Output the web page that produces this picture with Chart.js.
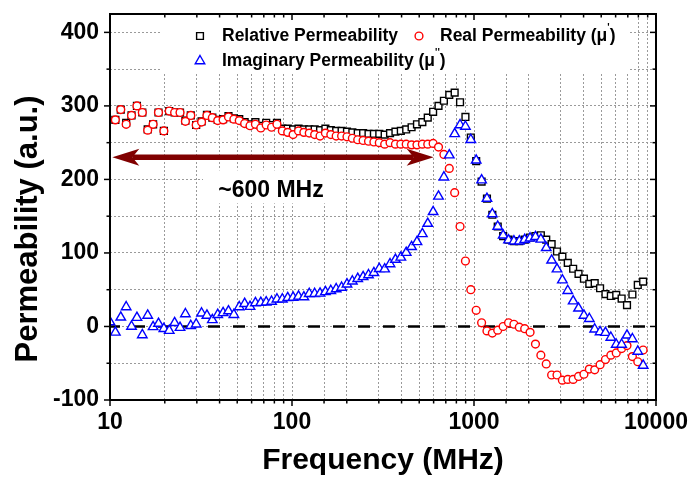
<!DOCTYPE html>
<html>
<head>
<meta charset="utf-8">
<script src="https://cdn.jsdelivr.net/npm/chart.js@4.4.0/dist/chart.umd.min.js"></script>
<style>
  html, body { margin: 0; padding: 0; background: #fff; }
</style>
</head>
<body>
<canvas id="grafico" width="690" height="479"></canvas>
<script>
// frequencias (MHz) - varredura logaritmica
const freq = [10.0, 10.70, 11.46, 12.27, 13.13, 14.06, 15.05, 16.11, 17.25, 18.47,
  19.77, 21.16, 22.65, 24.25, 25.96, 27.79, 29.75, 31.85, 34.09, 36.50,
  39.07, 41.83, 44.77, 47.93, 51.31, 54.93, 58.80, 62.95, 67.39, 72.14,
  77.23, 82.67, 88.50, 94.73, 101.4, 108.6, 116.2, 124.4, 133.2, 142.6,
  152.6, 163.4, 174.9, 187.3, 200.5, 214.6, 229.7, 245.9, 263.3, 281.8,
  301.7, 323.0, 345.7, 370.1, 396.2, 424.1, 454.0, 486.0, 520.3, 557.0,
  596.2, 638.3, 683.3, 731.4, 783.0, 838.2, 897.3, 960.6, 1028, 1101,
  1178, 1261, 1350, 1446, 1548, 1657, 1774, 1899, 2033, 2176,
  2330, 2494, 2670, 2858, 3059, 3275, 3506, 3753, 4018, 4301,
  4604, 4929, 5276, 5648, 6047, 6473, 6929, 7418, 7941, 8500];

// permeabilidade relativa (quadrados pretos)
const relPerm = [null, 281, 295, 277, 287, 300, 291, 268, 275, 291,
  266, 293, 291, 291, 280, 287, 274, 279, 288, 284,
  281, 282, 286, 283, 282, 278, 275, 278, 273, 277,
  274, 277, 269, 269, 268, 269, 268, 268, 268, 267,
  269, 267, 266, 266, 265, 264, 263, 263, 262, 262,
  262, 261, 263, 265, 266, 268, 271, 275, 278, 284,
  292, 300, 307, 315, 318, 305, 285, 257, 225, 197,
  174, 152, 136, 123, 118, 116, 116, 118, 121, 123,
  124, 118, 112, 102, 95, 86.5, 78.5, 71.5, 65, 58,
  59, 52, 44, 41.5, 43, 38, 29, 43.5, 56.5, 61];

// parte real mu' (circulos vermelhos)
const realPerm = [null, 281, 295, 275, 287, 300, 291, 267, 275, 291,
  266, 293, 291, 291, 279, 287, 274, 278, 287, 284,
  280, 281, 285, 282, 280, 276, 273, 275, 270, 274,
  271, 275, 266, 264, 261, 266, 264, 263, 261, 259,
  263, 261, 259, 259, 258, 256, 254, 253, 252, 251,
  250, 248, 250, 248, 248, 248, 247, 247, 248, 248,
  249, 244, 234, 215, 182, 136, 89, 50, 22, 5,
  -6, -9, -5, 0, 5, 3, -1, -3, -8, -24,
  -39, -51, -66, -66, -73, -72, -72, -68, -65, -58,
  -59, -52, -45, -39, -36, -30, -26, -41, -48, -32];

// parte imaginaria mu'' (triangulos azuis)
const imagPerm = [6, -8, 12.5, 26.5, 0, 12, -11.5, 15, -0.5, 4,
  -3, -5.7, 5, -1.6, 17, 1, 3, 18, 15, 9,
  16, 18.5, 21, 16, 26.5, 31, 27, 32, 32.5, 33,
  34, 37, 37, 39, 39.5, 41, 40, 44.5, 44.5, 45,
  47, 48.6, 51, 53, 57.5, 61.5, 65, 67.5, 70, 73,
  78.5, 78, 85, 91, 94, 100.5, 108.4, 115, 126, 140,
  156, 177, 203, 233, 262, 274, 272, 254, 226, 199,
  174, 153, 136, 124, 117.5, 116, 116, 118, 120, 122,
  118.5, 107, 90, 78, 63, 48.6, 34.5, 24.7, 15, 10.5,
  -3.8, -7.5, -8.4, -15, -24.5, -24.5, -12, -17, -34, -53];

const xTickLabels = [10, 100, 1000, 10000];
const yTickLabels = [-100, 0, 100, 200, 300, 400];

// seta da faixa ~600 MHz
const arrowFrom = 10.3;
const arrowTo = 600;
const arrowLevel = 230;
const arrowText = '~600 MHz';

const FONTE = '"Liberation Sans", Arial, sans-serif';

function pts(vals) { // monta pares x,y
  return freq.map(function (f, i) { return { x: f, y: vals[i] }; });
}

const decor = {
  id: 'decor',
  beforeDatasetsDraw: function (chart) {
    const ctx = chart.ctx, a = chart.chartArea;
    const x = chart.scales.x, y = chart.scales.y;
    ctx.save();
    ctx.fillStyle = '#fff';
    ctx.fillRect(160, a.top + 1, 468, 58); // fundo da legenda
    const cx = (x.getPixelForValue(arrowFrom) + x.getPixelForValue(arrowTo)) / 2;
    const ay = y.getPixelForValue(arrowLevel);
    ctx.fillRect(cx - 70, ay + 13, 140, 33); // fundo do texto
    // linha tracejada em zero
    const y0 = y.getPixelForValue(0);
    ctx.strokeStyle = '#000';
    ctx.lineWidth = 2.5;
    ctx.setLineDash([12, 13]);
    ctx.lineDashOffset = 2;
    ctx.beginPath();
    ctx.moveTo(a.left, y0);
    ctx.lineTo(a.right, y0);
    ctx.stroke();
    ctx.restore();
  },
  afterDraw: function (chart) {
    const ctx = chart.ctx, a = chart.chartArea;
    const x = chart.scales.x, y = chart.scales.y;
    ctx.save();
    // moldura e marcas
    ctx.strokeStyle = '#000';
    ctx.lineWidth = 2;
    ctx.strokeRect(a.left, a.top, a.right - a.left, a.bottom - a.top);
    ctx.lineWidth = 1.5;
    function seg(x1, y1, x2, y2) { ctx.beginPath(); ctx.moveTo(x1, y1); ctx.lineTo(x2, y2); ctx.stroke(); }
    x.ticks.forEach(function (t) {
      const px = x.getPixelForValue(t.value);
      const len = xTickLabels.indexOf(t.value) >= 0 ? 6 : 3.5;
      seg(px, a.bottom, px, a.bottom + len);
      seg(px, a.top, px, a.top + len);
    });
    y.ticks.forEach(function (t) {
      if (t.value % 50 !== 0) return;
      const py = y.getPixelForValue(t.value);
      const len = yTickLabels.indexOf(t.value) >= 0 ? 6 : 3.5;
      seg(a.left - len, py, a.left, py);
      seg(a.right - len, py, a.right, py);
    });

    // titulo do eixo y
    ctx.fillStyle = '#000';
    ctx.font = 'bold 31px ' + FONTE;
    ctx.textAlign = 'center';
    ctx.textBaseline = 'middle';
    ctx.translate(28, 229);
    ctx.rotate(-Math.PI / 2);
    ctx.fillText('Permeability (a.u.)', 0, 0);
    ctx.setTransform(1, 0, 0, 1, 0, 0);

    // seta dupla
    const xl = x.getPixelForValue(arrowFrom), xr = x.getPixelForValue(arrowTo);
    const ay = y.getPixelForValue(arrowLevel);
    ctx.fillStyle = '#800000';
    ctx.strokeStyle = '#800000';
    ctx.lineWidth = 5.5;
    seg(xl + 20, ay, xr - 20, ay);
    ctx.beginPath();
    ctx.moveTo(xl, ay); ctx.lineTo(xl + 27, ay - 8.5); ctx.lineTo(xl + 20, ay); ctx.lineTo(xl + 27, ay + 8.5); ctx.closePath();
    ctx.fill();
    ctx.beginPath();
    ctx.moveTo(xr, ay); ctx.lineTo(xr - 27, ay - 8.5); ctx.lineTo(xr - 20, ay); ctx.lineTo(xr - 27, ay + 8.5); ctx.closePath();
    ctx.fill();
    ctx.fillStyle = '#000';
    ctx.font = 'bold 23px ' + FONTE;
    ctx.textAlign = 'center';
    ctx.textBaseline = 'alphabetic';
    ctx.fillText(arrowText, (xl + xr) / 2 - 2, ay + 40);

    // legenda
    const ds = chart.data.datasets;
    function marker(d, mx, my) {
      ctx.strokeStyle = d.borderColor;
      ctx.fillStyle = '#fff';
      ctx.lineWidth = d.borderWidth;
      Chart.helpers.drawPoint(ctx, { pointStyle: d.pointStyle, radius: d.pointRadius, rotation: 0, borderWidth: d.borderWidth }, mx, my);
    }
    function label(txt, primes, tx, ty) {
      ctx.fillStyle = '#000';
      ctx.font = 'bold 17.5px ' + FONTE;
      ctx.textAlign = 'left';
      ctx.textBaseline = 'middle';
      ctx.fillText(txt, tx, ty);
      if (!primes) return;
      let w = ctx.measureText(txt).width;
      ctx.font = 'bold 10px ' + FONTE;
      ctx.fillText(primes, tx + w, ty - 8);
      w += ctx.measureText(primes).width;
      ctx.font = 'bold 17.5px ' + FONTE;
      ctx.fillText(')', tx + w, ty);
    }
    const r1 = a.top + 22, r2 = a.top + 47;
    marker(ds[2], a.left + 90, r1);
    label('Relative Permeability', '', a.left + 112, r1);
    marker(ds[1], a.left + 309, r1);
    label('Real Permeability (\u03bc', "'", a.left + 330, r1);
    marker(ds[0], a.left + 90, r2);
    label('Imaginary Permeability (\u03bc', "''", a.left + 112, r2);
    ctx.restore();
  }
};

var ctx = document.getElementById('grafico').getContext('2d');
var myChart = new Chart(ctx, {
  type: 'scatter',
  data: {
    datasets: [{
      label: "Imaginary Permeability (\u03bc'')",
      data: pts(imagPerm),
      pointStyle: 'triangle',
      pointRadius: 5.5,
      borderColor: '#0000ff',
      backgroundColor: '#fff',
      borderWidth: 1.4,
      order: 1
    }, {
      label: "Real Permeability (\u03bc')",
      data: pts(realPerm),
      pointStyle: 'circle',
      pointRadius: 3.9,
      borderColor: '#ff0000',
      backgroundColor: '#fff',
      borderWidth: 1.4,
      order: 2
    }, {
      label: 'Relative Permeability',
      data: pts(relPerm),
      pointStyle: 'rect',
      pointRadius: 4.8,
      borderColor: '#000',
      backgroundColor: '#fff',
      borderWidth: 1.4,
      order: 3
    }]
  },
  options: {
    responsive: false,
    animation: false,
    devicePixelRatio: 1,
    layout: { padding: { left: 0, right: 34, top: 14, bottom: 0 } },
    plugins: { legend: { display: false }, tooltip: { enabled: false } },
    scales: {
      x: {
        type: 'logarithmic',
        position: 'bottom',
        min: 10,
        max: 10000,
        afterFit: function (s) { s.height = 79; },
        grid: { color: '#9a9a9a', lineWidth: 1, drawTicks: true, tickLength: 9, tickColor: 'rgba(0,0,0,0)' },
        border: { display: false, dash: [2, 2] },
        ticks: {
          autoSkip: false,
          maxRotation: 0,
          padding: 0,
          color: '#000',
          font: { family: FONTE, size: 23, weight: 'bold' },
          callback: function (v) { return xTickLabels.indexOf(v) >= 0 ? String(v) : ''; }
        },
        title: {
          display: true,
          text: 'Frequency (MHz)',
          color: '#000',
          padding: 0,
          font: { family: FONTE, size: 30, weight: 'bold' }
        }
      },
      y: {
        min: -100,
        max: 425,
        afterFit: function (s) { s.width = 110; },
        grid: { color: '#9a9a9a', lineWidth: 1, drawTicks: true, tickLength: 11, tickColor: 'rgba(0,0,0,0)' },
        border: { display: false, dash: [2, 2] },
        ticks: {
          stepSize: 50,
          includeBounds: false,
          padding: 0,
          color: '#000',
          font: { family: FONTE, size: 23, weight: 'bold' },
          callback: function (v) { return yTickLabels.indexOf(v) >= 0 ? String(v) : ''; }
        }
      }
    }
  },
  plugins: [decor]
});
</script>
</body>
</html>
